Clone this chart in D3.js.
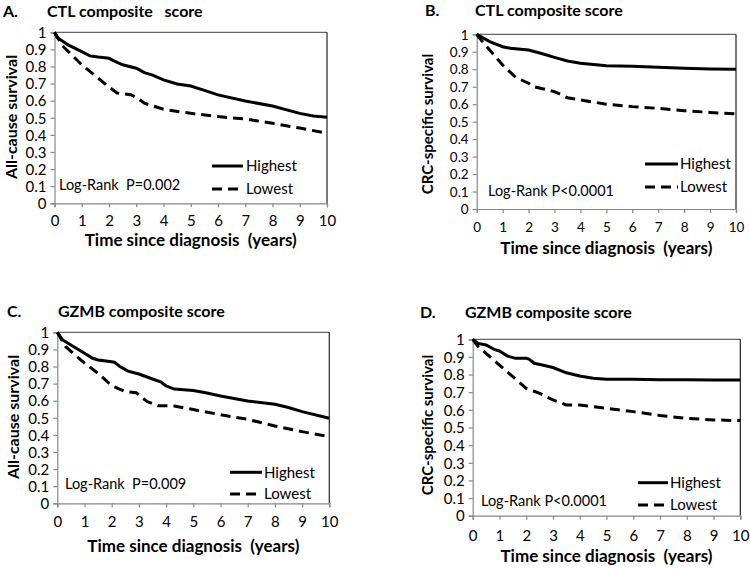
<!DOCTYPE html>
<html><head><meta charset="utf-8">
<script src="https://cdn.jsdelivr.net/npm/d3@7"></script>
<style>
body{margin:0;background:#fff}
svg text{font-family:Lato, "Open Sans", sans-serif; white-space:pre; fill:#000}
</style>
</head><body>
<svg id="chart" width="750" height="569"></svg>
<script>
// ---------- data ----------
const xTicks = [0,1,2,3,4,5,6,7,8,9,10];
const yTicks = [0,0.1,0.2,0.3,0.4,0.5,0.6,0.7,0.8,0.9,1];
const yTickLabels = ["0","0.1","0.2","0.3","0.4","0.5","0.6","0.7","0.8","0.9","1"];
const panelLetters = ["A.","B.","C.","D."];
const panelTitles = ["CTL composite   score","CTL composite score","GZMB composite score","GZMB composite score"];
const yTitles = ["All-cause survival","CRC-specific survival","All-cause survival","CRC-specific survival"];
const xTitle = "Time since diagnosis  (years)";
const logRankTexts = ["Log-Rank  P=0.002","Log-Rank P<0.0001","Log-Rank  P=0.009","Log-Rank P<0.0001"];
const seriesNames = ["Highest","Lowest"];

const aHighest = [[0,1],[0.1,0.97],[0.5,0.926],[1,0.887],[1.3,0.862],[1.6,0.855],[2,0.848],[2.2,0.832],[2.5,0.81],[3,0.79],[3.3,0.764],[3.6,0.75],[4,0.722],[4.5,0.698],[5,0.686],[5.5,0.66],[6,0.634],[7,0.598],[8,0.569],[9,0.526],[9.5,0.51],[10,0.503]];
const aLowest  = [[0,1],[0.3,0.92],[1,0.81],[1.5,0.745],[2,0.68],[2.3,0.645],[2.8,0.635],[3,0.62],[3.3,0.585],[4,0.55],[5,0.526],[6,0.507],[7,0.493],[8,0.468],[9,0.44],[10,0.41]];
const bHighest = [[0,1],[0.5,0.958],[1,0.929],[1.3,0.92],[2,0.91],[2.5,0.89],[3,0.868],[3.5,0.847],[4,0.834],[5,0.82],[6,0.817],[7,0.811],[8,0.805],[9,0.802],[10,0.8]];
const bLowest  = [[0,1],[0.1,0.98],[0.5,0.91],[1,0.824],[1.5,0.754],[2,0.72],[2.2,0.7],[2.5,0.69],[3,0.672],[3.5,0.637],[4,0.624],[5,0.6],[6,0.586],[7,0.576],[8,0.563],[9,0.553],[10,0.544]];
const cHighest = [[0,1],[0.2,0.955],[0.5,0.926],[1,0.877],[1.3,0.848],[1.5,0.838],[2,0.828],[2.1,0.825],[2.3,0.8],[2.6,0.773],[3,0.756],[3.5,0.727],[3.8,0.71],[4,0.686],[4.3,0.668],[5,0.659],[5.5,0.645],[6,0.628],[7,0.598],[8,0.579],[8.5,0.56],[9,0.536],[10,0.497]];
const cLowest  = [[0,1],[0.3,0.917],[1,0.82],[1.5,0.76],[2,0.688],[2.5,0.653],[2.9,0.647],[3.3,0.595],[3.7,0.571],[4.3,0.569],[5,0.548],[6,0.518],[7,0.491],[8,0.452],[9,0.419],[10,0.39]];
const dHighest = [[0,1],[0.2,0.977],[0.5,0.968],[0.8,0.943],[1,0.934],[1.3,0.905],[1.6,0.892],[2,0.892],[2.1,0.888],[2.3,0.864],[2.6,0.854],[3,0.84],[3.5,0.81],[4,0.792],[4.5,0.779],[5,0.773],[6,0.773],[7,0.771],[8,0.771],[9,0.769],[10,0.769]];
const dLowest  = [[0,1],[0.2,0.96],[0.5,0.92],[1,0.854],[1.5,0.788],[2,0.722],[2.5,0.694],[3,0.656],[3.5,0.628],[4,0.628],[4.5,0.618],[5,0.609],[6,0.59],[7,0.568],[8,0.552],[9,0.543],[10,0.539]];

const panelSeries = [[aHighest,aLowest],[bHighest,bLowest],[cHighest,cLowest],[dHighest,dLowest]];

// ---------- layout ----------
const layout = [
  {l:54.5, r:327, t:32.3, b:203.3, letterX:3, titleX:47, titleY:17, yTitleX:11, yTitleY:117, xTitleY:246, tickY:220, legX0:212, legX1:243, legY1:166, legY2:189, legTX:246, lrX:59, lrY:185, tickFont:15, yTitleFont:16, titleFont:16},
  {l:476.7, r:736, t:34.3, b:209, letterX:425, titleX:475, titleY:15.5, yTitleX:428, yTitleY:124, xTitleY:254, tickY:227, legX0:645, legX1:678, legY1:164, legY2:187, legTX:680, lrX:488, lrY:191, tickFont:13.5, yTitleFont:15, titleFont:16},
  {l:57.3, r:329.3, t:332.3, b:503.3, letterX:7, titleX:58, titleY:317, yTitleX:13, yTitleY:417, xTitleY:552, tickY:520.7, legX0:230, legX1:262, legY1:472.3, legY2:494, legTX:264, lrX:65, lrY:484, tickFont:15, yTitleFont:16, titleFont:16},
  {l:472.7, r:740.3, t:339.3, b:515.7, letterX:420, titleX:465, titleY:318, yTitleX:428, yTitleY:425, xTitleY:562, tickY:535, legX0:638, legX1:668, legY1:482.7, legY2:505, legTX:670, lrX:481, lrY:500.7, tickFont:15, yTitleFont:15, titleFont:16}
];

const svg = d3.select("#chart");

layout.forEach((L, i) => {
  const g = svg.append("g");
  const x = d3.scaleLinear().domain([0,10]).range([L.l, L.r]);
  const y = d3.scaleLinear().domain([0,1]).range([L.b, L.t]);

  // plot frame (top & right)
  g.append("line").attr("x1",L.l).attr("x2",L.r).attr("y1",L.t).attr("y2",L.t).attr("stroke","#666").attr("stroke-width",1.2);
  g.append("line").attr("x1",L.r).attr("x2",L.r).attr("y1",L.t).attr("y2",L.b).attr("stroke","#222").attr("stroke-width",1.2);

  // axes
  const xAxis = d3.axisBottom(x).tickValues(xTicks).tickSize(4).tickFormat(d3.format("d"));
  const yAxis = d3.axisLeft(y).tickValues(yTicks).tickSize(4).tickFormat((d,j)=>yTickLabels[j]);
  const gx = g.append("g").attr("transform",`translate(0,${L.b})`).call(xAxis);
  const gy = g.append("g").attr("transform",`translate(${L.l},0)`).call(yAxis);
  [gx,gy].forEach(a=>{
    a.select(".domain").attr("stroke","#888").attr("stroke-width",1.2);
    a.selectAll(".tick line").attr("stroke","#888").attr("stroke-width",1.2);
    a.selectAll(".tick text").attr("font-family","Lato, sans-serif").attr("font-size",L.tickFont).attr("fill","#000");
  });
  gx.selectAll(".tick text").attr("y", null).attr("dy",null).attr("transform",null)
    .attr("y", L.tickY - L.b).attr("dominant-baseline","central");
  gy.selectAll(".tick text").attr("x", -8).attr("dy","0.35em");

  // curves
  const line = d3.line().x(d=>x(d[0])).y(d=>y(d[1]));
  const [hi, lo] = panelSeries[i];
  g.append("path").datum(lo).attr("d",line).attr("fill","none").attr("stroke","#000").attr("stroke-width",3).attr("stroke-dasharray","10,6");
  g.append("path").datum(hi).attr("d",line).attr("fill","none").attr("stroke","#000").attr("stroke-width",3);

  // titles
  g.append("text").attr("x",L.letterX).attr("y",L.titleY).attr("font-weight","bold").attr("font-size",L.titleFont).text(panelLetters[i]);
  g.append("text").attr("x",L.titleX).attr("y",L.titleY).attr("font-weight","bold").attr("font-size",L.titleFont).text(panelTitles[i]);
  g.append("text").attr("transform",`translate(${L.yTitleX},${L.yTitleY}) rotate(-90)`).attr("text-anchor","middle")
    .attr("dy","0.35em").attr("font-weight","bold").attr("font-size",L.yTitleFont).text(yTitles[i]);
  g.append("text").attr("x",(L.l+L.r)/2).attr("y",L.xTitleY).attr("text-anchor","middle").attr("font-weight","bold").attr("font-size",17).text(xTitle);

  // legend
  g.append("line").attr("x1",L.legX0).attr("x2",L.legX1).attr("y1",L.legY1).attr("y2",L.legY1).attr("stroke","#000").attr("stroke-width",3);
  g.append("line").attr("x1",L.legX0).attr("x2",L.legX1).attr("y1",L.legY2).attr("y2",L.legY2).attr("stroke","#000").attr("stroke-width",3).attr("stroke-dasharray","10,6");
  g.append("text").attr("x",L.legTX).attr("y",L.legY1).attr("dy","0.35em").attr("font-size",15).text(seriesNames[0]);
  g.append("text").attr("x",L.legTX).attr("y",L.legY2).attr("dy","0.35em").attr("font-size",15).text(seriesNames[1]);
  g.append("text").attr("x",L.lrX).attr("y",L.lrY).attr("dy","0.35em").attr("font-size",14.5).text(logRankTexts[i]);
});
</script>
</body></html>
